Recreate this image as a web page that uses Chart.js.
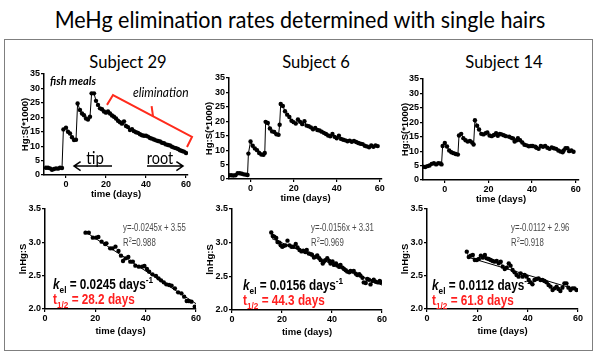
<!DOCTYPE html>
<html>
<head>
<meta charset="utf-8">
<title>MeHg elimination rates</title>
<script src="https://cdn.jsdelivr.net/npm/chart.js@4.4.1/dist/chart.umd.min.js"></script>
<style>
  body { margin: 0; background: #fff; }
  #page { position: relative; width: 600px; height: 359px; overflow: hidden; background: #fff; }
  #page canvas { position: absolute; }
  .txt { position: absolute; white-space: nowrap; line-height: 1; }
  .c { transform: translate(-50%, -50%) scaleX(var(--sx, 1)); transform-origin: 50% 50%; }
  .l { transform: translateY(-50%) scaleX(var(--sx, 1)); transform-origin: 0 50%; }
  #frame { position: absolute; left: 4px; top: 39px; width: 589px; height: 312px; border: 1.5px solid #7f7f7f; box-sizing: border-box; }
  .head { font-family: Lato, sans-serif; color: #000; }
  .eq { font-family: "Liberation Sans", Arial, sans-serif; font-size: 10px; color: #4a4a4a; --sx: 0.78; }
  .k { font-family: "Liberation Sans", Arial, sans-serif; font-weight: bold; font-size: 14px; color: #000; --sx: 0.84; }
  .half { color: #ff1f1f; }
  sub, sup { font-size: 70%; line-height: 0; }
</style>
</head>
<body>
<div id="page">
  <div id="frame"></div>
  <div class="txt c head" style="left:300px;top:19px;font-size:23px;--sx:0.935">MeHg elimination rates determined with single hairs</div>
  <div class="txt c head" style="left:128px;top:61px;font-size:18px;--sx:0.92">Subject 29</div>
  <div class="txt c head" style="left:316px;top:61px;font-size:18px;--sx:0.92">Subject 6</div>
  <div class="txt c head" style="left:504px;top:61px;font-size:18px;--sx:0.92">Subject 14</div>

  <canvas id="top29"></canvas>
  <canvas id="top6"></canvas>
  <canvas id="top14"></canvas>
  <canvas id="ln29"></canvas>
  <canvas id="ln6"></canvas>
  <canvas id="ln14"></canvas>

  <div class="txt l head" style="left:50px;top:80px;font-size:11px;font-weight:bold;font-style:italic">fish meals</div>
  <div class="txt l head" style="left:133px;top:92px;font-size:14px;font-style:italic;--sx:0.86">elimination</div>
  <div class="txt c head" style="left:95px;top:157px;font-size:17px;--sx:0.88">tip</div>
  <div class="txt c head" style="left:160px;top:157px;font-size:17px;--sx:0.85">root</div>

  <div class="txt l eq" style="left:123px;top:228px">y=-0.0245x + 3.55</div>
  <div class="txt l eq" style="left:123px;top:243px">R<sup>2</sup>=0.988</div>
  <div class="txt l k" style="left:53px;top:284px"><i>k</i><sub>el</sub> = 0.0245 days<sup>-1</sup></div>
  <div class="txt l k half" style="left:53px;top:299px">t<sub>1/2</sub> = 28.2 days</div>

  <div class="txt l eq" style="left:311px;top:228px">y=-0.0156x + 3.31</div>
  <div class="txt l eq" style="left:311px;top:243px">R<sup>2</sup>=0.969</div>
  <div class="txt l k" style="left:243px;top:285px"><i>k</i><sub>el</sub> = 0.0156 days<sup>-1</sup></div>
  <div class="txt l k half" style="left:243px;top:300px">t<sub>1/2</sub> = 44.3 days</div>

  <div class="txt l eq" style="left:511px;top:228px">y=-0.0112 + 2.96</div>
  <div class="txt l eq" style="left:511px;top:243px">R<sup>2</sup>=0.918</div>
  <div class="txt l k" style="left:432px;top:285px"><i>k</i><sub>el</sub> = 0.0112 days<sup>-1</sup></div>
  <div class="txt l k half" style="left:432px;top:300px">t<sub>1/2</sub> = 61.8 days</div>
</div>
<script>
// Hg:S(*1000) along the hair, time in days
const s29Days = [-10, -9, -8, -7, -6, -5, -4, -3, -2, -1.3, 0, 1, 2, 3, 4, 5, 5.8, 7, 8, 9, 10, 11, 12, 12.8, 14, 15, 16, 17, 18, 19, 20, 21, 22,
  23, 24, 25, 26, 27, 28, 29, 30, 31, 32, 33, 34, 35, 36, 37, 38, 39, 40, 41, 42, 43, 44, 45, 46, 47, 48, 49, 50, 51, 52, 53, 54, 55, 56, 57, 58, 59, 60];
const s29Hg = [2.5, 2.5, 2.3, 1.8, 2.1, 2.3, 2.2, 2.5, 2.4, 15.8, 16.4, 15.0, 14.4, 13.1, 12.1, 12.2, 24.8, 22.5, 21.3, 20.7, 19.6, 19.2, 20.2, 28.3, 28.3, 25.7, 24.3, 23.1, 22.8, 22.0, 21.6, 22.0, 21.3,
  20.6, 20.2, 19.6, 18.8, 18.3, 17.8, 18.6, 17.0, 16.6, 15.6, 15.9, 15.2, 14.8, 14.6, 14.1, 13.8, 13.6, 13.6, 13.3, 12.8, 12.6, 12.3, 12.0, 11.8, 11.6, 11.2, 11.0, 10.6, 10.4, 10.2, 9.8, 9.5, 9.3, 9.0, 8.6, 8.3, 8.1, 7.6];

const s6Days = [-10, -9, -8, -7, -6, -5, -4, -3, -2, -1.4, -1, 0, 1, 2, 3, 4, 5, 6, 6.6, 7, 8, 9, 10, 11, 12, 13, 13.5, 14,
  15, 16, 17, 18, 19, 20, 21, 22, 23, 24, 25, 26, 27, 28, 29, 30, 31, 32, 33, 34, 35, 36, 37, 38, 39, 40, 41, 42, 43, 44, 45, 46, 47, 48, 49, 50, 51, 52, 53, 54, 55, 56, 57, 58, 59];
const s6Hg = [1.3, 1.3, 1.2, 1.3, 2.0, 2.0, 1.8, 1.6, 1.5, 1.4, 8.8, 13.0, 11.5, 10.6, 10.0, 9.0, 8.5, 8.4, 9.0, 19.8, 19.4, 17.5, 16.5, 16.3, 15.5, 15.3, 18.8, 26.0,
  25.3, 23.5, 22.3, 21.5, 20.2, 19.7, 19.2, 20.6, 19.8, 19.0, 20.0, 18.5, 18.3, 17.9, 17.2, 17.7, 17.0, 16.8, 16.4, 16.0, 15.6, 15.1, 14.8, 15.6, 14.6, 14.1, 15.0, 13.9, 13.6, 13.4, 13.1, 13.3, 12.9, 13.2, 12.8, 12.5, 12.2, 12.1, 11.5, 11.3, 11.0, 11.6, 11.2, 11.6, 11.4];

const s14Days = [-10, -9, -8, -7, -6, -5, -4, -3, -2, -1.5, -1, 0, 1, 2, 3, 4, 5, 6, 6.5, 7.5, 8.5, 9.5, 10.5, 11.5, 12.5, 13.2, 13.8,
  14.8, 15.7, 16.7, 17.7, 18.7, 19.5, 20.5, 21.5, 22.5, 23.5, 24.3, 25.2, 26, 27, 28, 29.5, 30.5, 31.3, 32, 33, 33.5, 34.5, 35.5, 36.5, 37.5,
  38.5, 39.5, 40.3, 41.5, 42, 43, 44, 45, 46, 47, 48, 49, 50, 51, 52, 53, 54, 54.5, 55.3, 56.2, 57, 58, 59];
const s14Hg = [4.6, 4.5, 4.8, 5.0, 5.6, 5.8, 5.4, 5.8, 5.7, 5.4, 11.8, 12.8, 11.6, 10.2, 9.6, 9.3, 9.0, 8.8, 15.4, 16.0, 14.5, 13.8, 13.3, 13.5, 13.0, 12.3, 20.7,
  18.8, 17.5, 16.0, 15.8, 16.2, 16.5, 15.4, 15.2, 15.6, 16.2, 15.3, 16.0, 15.8, 15.5, 15.2, 15.0, 14.6, 14.4, 13.3, 13.8, 14.5, 13.8, 13.0, 12.2, 12.0,
  11.7, 11.8, 11.8, 11.5, 11.2, 10.8, 11.8, 11.5, 11.8, 11.2, 10.8, 11.3, 11.0, 10.8, 10.2, 9.9, 9.6, 10.2, 11.0, 11.0, 10.0, 10.2, 9.8];

// lnHg:S in the elimination phase
const ln29Days = [16.1, 17.4, 19.0, 20.3, 21.2, 22.5, 23.9, 24.4, 25.9, 26.8, 28.0, 29.2, 30.2, 31.0, 32.0, 33.1, 33.9, 34.9, 35.9, 37.3,
  38.6, 39.5, 40.5, 41.4, 42.7, 44.1, 45.1, 46.1, 47.2, 48.2, 49.3, 50.3, 51.6, 52.9, 54.2, 55.3, 56.3, 57.1, 58.2, 59.5];
const ln29 = [3.145, 3.145, 3.07, 3.07, 3.08, 3.01, 2.975, 2.985, 2.91, 2.91, 2.935, 2.87, 2.80, 2.72, 2.76, 2.78, 2.71, 2.71, 2.65, 2.635,
  2.635, 2.645, 2.60, 2.56, 2.52, 2.495, 2.46, 2.43, 2.40, 2.37, 2.36, 2.35, 2.31, 2.25, 2.235, 2.185, 2.12, 2.12, 2.11, 2.035];

const ln6Days = [15.7, 16.3, 16.9, 17.7, 18.2, 19.0, 19.5, 20.1, 20.6, 21.4, 22.2, 23.0, 23.8, 24.6, 25.5, 26.2, 27.0, 27.8, 28.5, 29.3,
  29.9, 30.7, 31.5, 32.0, 32.8, 33.6, 34.1, 34.9, 35.5, 36.3, 36.8, 37.3, 38.1, 38.9, 39.4, 40.2, 40.8, 41.6, 42.1, 42.9,
  43.4, 44.2, 44.8, 45.5, 46.1, 46.9, 47.4, 48.2, 48.7, 49.5, 50.1, 50.9, 51.4, 52.2, 52.7, 53.5, 54.1, 54.8, 55.4, 56.2, 56.7, 57.5, 58.4, 59.1, 59.8];
const ln6 = [3.15, 3.10, 3.09, 3.07, 3.01, 3.00, 2.96, 2.94, 2.95, 2.96, 3.03, 2.96, 2.94, 2.94, 2.98, 2.93, 2.89, 2.87, 2.88, 2.86,
  2.89, 2.84, 2.83, 2.82, 2.78, 2.79, 2.81, 2.77, 2.74, 2.69, 2.72, 2.74, 2.77, 2.73, 2.69, 2.72, 2.67, 2.69, 2.66, 2.64,
  2.67, 2.63, 2.61, 2.59, 2.57, 2.56, 2.58, 2.57, 2.58, 2.54, 2.52, 2.53, 2.51, 2.48, 2.41, 2.40, 2.46, 2.45, 2.38, 2.43, 2.45, 2.42, 2.41, 2.43, 2.41];

const ln14Days = [15.8, 16.6, 17.4, 18.2, 19.0, 19.8, 20.6, 21.4, 22.2, 23.0, 23.7, 24.5, 25.3, 26.1, 26.9, 27.7, 28.5, 29.3, 30.1, 30.9,
  31.7, 32.5, 33.2, 34.0, 34.8, 35.6, 36.4, 37.2, 38.0, 38.8, 39.6, 40.4, 41.2, 41.9, 42.7, 43.5, 44.3, 45.1, 45.9, 46.7,
  47.5, 48.3, 49.1, 49.9, 50.7, 51.5, 52.2, 53.0, 53.8, 54.6, 55.4, 56.2, 57.0, 57.8, 58.6, 59.4];
const ln14 = [2.86, 2.78, 2.80, 2.81, 2.735, 2.735, 2.75, 2.80, 2.77, 2.81, 2.76, 2.75, 2.735, 2.72, 2.71, 2.72, 2.685, 2.71, 2.635, 2.60,
  2.62, 2.685, 2.65, 2.585, 2.55, 2.51, 2.485, 2.535, 2.485, 2.51, 2.485, 2.435, 2.40, 2.37, 2.435, 2.45, 2.46, 2.435, 2.435, 2.42,
  2.40, 2.36, 2.335, 2.285, 2.31, 2.335, 2.30, 2.27, 2.32, 2.385, 2.385, 2.32, 2.285, 2.31, 2.31, 2.285];

// regression lines (end points)
const fit29Days = [16, 60], fit29 = [3.158, 2.08];
const fit6Days = [16, 60], fit6 = [3.06, 2.37];
const fit14Days = [16, 59.5], fit14 = [2.78, 2.29];

const hgTicks = [0, 5, 10, 15, 20, 25, 30, 35];
const lnTicks = [2.0, 2.5, 3.0, 3.5];
const timeTicks = [0, 20, 40, 60];

// annotation shapes for subject 29, in [day, Hg:S] units
const elimBracket = [[20.5, 24.3], [23.5, 27.7], [63, 13.2], [60.5, 9.7]];
const elimTick = [[43.5, 20.4], [42.8, 23.9]];
const tipArrow = [[23, 3.1], [4, 3.1]];
const rootArrow = [[40.5, 3.1], [58.5, 3.1]];

Chart.defaults.color = '#000';
Chart.defaults.font.family = '"Liberation Sans", Arial, sans-serif';

const tickFont = { size: 9, weight: 'bold' };
const titleFont = { size: 9.5, weight: 'bold' };

const points = (xs, ys) => xs.map((x, i) => ({ x, y: ys[i] }));

function profile(xs, ys) {
    return { data: points(xs, ys), showLine: true, borderColor: '#000', borderWidth: 1,
        pointRadius: 2.2, pointBackgroundColor: '#000', pointBorderWidth: 0 };
}

function dots(xs, ys, joined) {
    return { data: points(xs, ys), showLine: joined, borderColor: '#000', borderWidth: 0.8,
        pointRadius: 2.2, pointBackgroundColor: '#000', pointBorderWidth: 0 };
}

function fitLine(xs, ys) {
    return { data: points(xs, ys), showLine: true, borderColor: '#000', borderWidth: 1, pointRadius: 0 };
}

const annotate = {
    id: 'annotate',
    afterDatasetsDraw(chart) {
        const { ctx, scales: { x, y } } = chart;
        const px = p => [x.getPixelForValue(p[0]), y.getPixelForValue(p[1])];
        const poly = pts => {
            ctx.beginPath();
            pts.map(px).forEach((p, i) => i ? ctx.lineTo(p[0], p[1]) : ctx.moveTo(p[0], p[1]));
            ctx.stroke();
        };
        const arrow = pts => {
            const [a, b] = pts.map(px);
            const ang = Math.atan2(b[1] - a[1], b[0] - a[0]);
            ctx.beginPath();
            ctx.moveTo(a[0], a[1]);
            ctx.lineTo(b[0], b[1]);
            ctx.moveTo(b[0] - 8 * Math.cos(ang - 0.6), b[1] - 8 * Math.sin(ang - 0.6));
            ctx.lineTo(b[0], b[1]);
            ctx.lineTo(b[0] - 8 * Math.cos(ang + 0.6), b[1] - 8 * Math.sin(ang + 0.6));
            ctx.stroke();
        };
        ctx.save();
        ctx.strokeStyle = '#ff2b1c';
        ctx.lineWidth = 2;
        poly(elimBracket);
        poly(elimTick);
        ctx.strokeStyle = '#000';
        ctx.lineWidth = 1.5;
        arrow(tipArrow);
        arrow(rootArrow);
        ctx.restore();
    }
};

function makeChart(id, box, cfg) {
    const yW = 46, xH = 30, padTop = 8, padRight = 14;
    const canvas = document.getElementById(id);
    canvas.width = box.right - box.left + yW + padRight;
    canvas.height = box.bottom - box.top + padTop + xH;
    canvas.style.left = (box.left - yW) + 'px';
    canvas.style.top = (box.top - padTop) + 'px';

    const grid = { drawOnChartArea: false, tickLength: 3, color: '#000', lineWidth: 1.2 };
    const border = { color: '#000', width: 1.5 };

    return new Chart(canvas, {
        type: 'scatter',
        data: { datasets: cfg.datasets },
        options: {
            responsive: false,
            animation: false,
            layout: { padding: { top: padTop, right: padRight, left: 0, bottom: 0 } },
            plugins: { legend: { display: false }, tooltip: { enabled: false } },
            scales: {
                x: {
                    type: 'linear', min: cfg.xMin, max: cfg.xMax,
                    afterBuildTicks: s => { s.ticks = timeTicks.map(v => ({ value: v })); },
                    afterFit: s => { s.height = xH; },
                    ticks: { font: tickFont, padding: 1, maxRotation: 0, autoSkip: false },
                    grid, border,
                    title: { display: true, text: 'time (days)', font: titleFont,
                        padding: { top: 0, bottom: xH - cfg.xTitleGap - 5.7 } }
                },
                y: {
                    type: 'linear', min: cfg.yMin, max: cfg.yMax,
                    afterBuildTicks: s => { s.ticks = cfg.yTicks.map(v => ({ value: v })); },
                    afterFit: s => { s.width = yW; },
                    ticks: { font: tickFont, padding: 1, autoSkip: false, callback: cfg.yFormat },
                    grid, border,
                    title: { display: true, text: cfg.yTitle, font: titleFont,
                        padding: { top: yW - cfg.yTitleGap - 5.7, bottom: 0 } }
                }
            }
        },
        plugins: cfg.plugins || []
    });
}

const hgAxis = { yMin: 0, yMax: 35, yTicks: hgTicks, yTitle: 'Hg:S(*1000)', yFormat: v => String(v), xTitleGap: 19 };
const lnAxis = { xMin: 0, xMax: 60, yMin: 2, yMax: 3.5, yTicks: lnTicks, yTitle: 'lnHg:S', yFormat: v => v.toFixed(1), xTitleGap: 22, yTitleGap: 22 };

makeChart('top29', { left: 44, right: 188, top: 74, bottom: 175 },
    { ...hgAxis, xMin: -11, xMax: 61, yTitleGap: 19, datasets: [profile(s29Days, s29Hg)], plugins: [annotate] });
makeChart('top6', { left: 229, right: 382, top: 78, bottom: 179 },
    { ...hgAxis, xMin: -10, xMax: 61, yTitleGap: 20, datasets: [profile(s6Days, s6Hg)] });
makeChart('top14', { left: 423, right: 579, top: 79, bottom: 180 },
    { ...hgAxis, xMin: -10, xMax: 61.5, yTitleGap: 18, datasets: [profile(s14Days, s14Hg)] });

makeChart('ln29', { left: 45, right: 196, top: 209, bottom: 309 },
    { ...lnAxis, datasets: [dots(ln29Days, ln29, false), fitLine(fit29Days, fit29)] });
makeChart('ln6', { left: 232, right: 382, top: 209, bottom: 310 },
    { ...lnAxis, datasets: [dots(ln6Days, ln6, false), fitLine(fit6Days, fit6)] });
makeChart('ln14', { left: 427, right: 578, top: 209, bottom: 309 },
    { ...lnAxis, datasets: [dots(ln14Days, ln14, true), fitLine(fit14Days, fit14)] });
</script>
</body>
</html>
